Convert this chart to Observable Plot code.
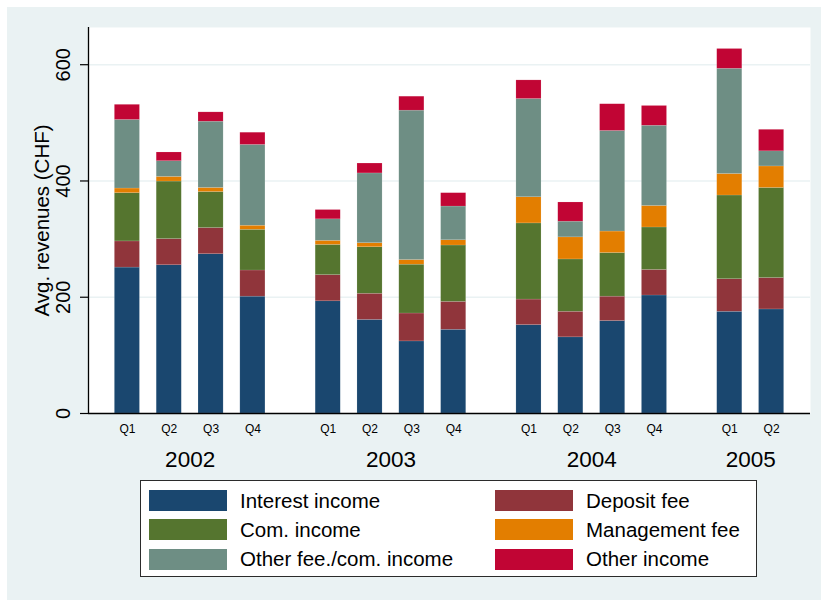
<!DOCTYPE html>
<html>
<head>
<meta charset="utf-8">
<script src="https://cdn.jsdelivr.net/npm/d3@7"></script>
<script src="https://cdn.jsdelivr.net/npm/@observablehq/plot@0.6"></script>
<style>
  html, body { margin: 0; padding: 0; background: #ffffff; }
  body { width: 821px; height: 600px; position: relative; overflow: hidden;
         font-family: "Liberation Sans", Arial, Helvetica, sans-serif; }
  #bg { position: absolute; left: 7px; top: 7px; width: 814px; height: 593px; background: #eaf2f3; }
  #chart { position: absolute; left: 0; top: 0; }
  #legend { position: absolute; left: 140px; top: 480px; width: 617px; height: 97px;
            background: #fff; border: 1.5px solid #2b2b2b; box-sizing: border-box; }
  .item { position: absolute; display: flex; align-items: center; font-size: 20.5px; color: #000; }
  .sw { width: 78px; height: 21px; margin-right: 13px; }
</style>
</head>
<body>
<div id="bg"></div>
<div id="chart"></div>
<div id="legend"></div>
<script>
// ---- data ----
const periodYear    = ["2002","2002","2002","2002","2003","2003","2003","2003","2004","2004","2004","2004","2005","2005"];
const periodQuarter = ["Q1","Q2","Q3","Q4","Q1","Q2","Q3","Q4","Q1","Q2","Q3","Q4","Q1","Q2"];
const years = ["2002","2003","2004","2005"];

const seriesNames = ["Interest income","Deposit fee","Com. income","Management fee","Other fee./com. income","Other income"];
const seriesColors = ["#1a476f","#90353b","#55752f","#e37e00","#6e8e84","#c10534"];

const interestIncome = [251,255,274,201, 193,161,124,144, 152,131,159,203, 175,179];
const depositFee     = [ 45, 45, 45, 45,  45, 45, 48, 48,  44, 44, 42, 44,  56, 54];
const comIncome      = [ 83, 99, 62, 70,  52, 80, 84, 97, 131, 90, 75, 73, 144,155];
const managementFee  = [  8,  8,  7,  7,   7,  7,  8,  9,  45, 38, 37, 37,  37, 37];
const otherFeeCom    = [118, 27,114,139,  37,120,257, 58, 169, 27,173,138, 181, 26];
const otherIncome    = [ 26, 15, 16, 21,  16, 17, 24, 23,  32, 33, 46, 34,  34, 37];

const yTicks = [0, 200, 400, 600];
const yLabel = "Avg. revenues (CHF)";

// ---- build table ----
const seriesValues = [interestIncome, depositFee, comIncome, managementFee, otherFeeCom, otherIncome];
const yearGap = 0.8; // extra slots between year groups
const periods = periodYear.map((y, i) => {
  const yi = years.indexOf(y);
  const qi = +periodQuarter[i].slice(1) - 1;
  return {year: y, quarter: periodQuarter[i], pos: yi * (4 + yearGap) + qi};
});
const rows = [];
periods.forEach((p, i) => {
  let base = 0;
  seriesNames.forEach((s, k) => {
    const v = seriesValues[k][i];
    rows.push({pos: p.pos, series: s, y1: base, y2: base + v});
    base += v;
  });
});
const yearCenters = years.map(y => ({year: y, pos: d3.mean(periods.filter(p => p.year === y), p => p.pos)}));
const ext = d3.extent(periods, p => p.pos);
const pad = 0.93, half = 0.3;

const chart = Plot.plot({
  width: 821,
  height: 480,
  marginLeft: 88,
  marginRight: 11,
  marginTop: 27,
  marginBottom: 67,
  style: {background: "transparent", fontFamily: "'Liberation Sans', Arial, Helvetica, sans-serif", color: "#000"},
  x: {type: "linear", domain: [ext[0] - pad, ext[1] + pad], axis: null},
  y: {domain: [0, 664], axis: null},
  color: {domain: seriesNames, range: seriesColors},
  marks: [
    Plot.frame({fill: "white", stroke: "none"}),
    Plot.gridY(yTicks.filter(d => d > 0), {stroke: "#eaf2f3", strokeOpacity: 1, strokeWidth: 1.5}),
    Plot.rectY(rows, {x1: d => d.pos - half, x2: d => d.pos + half, y1: "y1", y2: "y2", fill: "series", stroke: "white", strokeOpacity: 0.25, strokeWidth: 0.5}),
    Plot.ruleX([ext[0] - pad], {stroke: "#000", strokeWidth: 1.3}),
    Plot.ruleY([0], {stroke: "#000", strokeWidth: 1.3}),
    Plot.axisY({ticks: yTicks, tickSize: 8, tickFormat: () => "", stroke: "#000", strokeWidth: 1.2}),
    Plot.text(yTicks, {y: d => d, frameAnchor: "left", dx: -25, rotate: -90, textAnchor: "middle", lineAnchor: "middle", text: d => String(d), fontSize: 20, fill: "#000"}),
    Plot.text([yLabel], {frameAnchor: "left", dx: -46, rotate: -90, textAnchor: "middle", lineAnchor: "middle", text: d => d, fontSize: 20.5, fill: "#000"}),
    Plot.text(periods, {x: "pos", frameAnchor: "bottom", dy: 16, lineAnchor: "middle", text: "quarter", fontSize: 12, fill: "#000"}),
    Plot.text(yearCenters, {x: "pos", frameAnchor: "bottom", dy: 46, lineAnchor: "middle", text: "year", fontSize: 22.5, fill: "#000"})
  ]
});
document.getElementById("chart").appendChild(chart);

// ---- legend ----
const legend = document.getElementById("legend");
seriesNames.forEach((s, k) => {
  const col = k % 2, row = Math.floor(k / 2);
  const item = document.createElement("div");
  item.className = "item";
  item.style.left = (col === 0 ? 8 : 354) + "px";
  item.style.top = (7.5 + row * 29.3) + "px";
  item.innerHTML = `<div class="sw" style="background:${seriesColors[k]}"></div><span>${s}</span>`;
  legend.appendChild(item);
});
</script>
</body>
</html>
